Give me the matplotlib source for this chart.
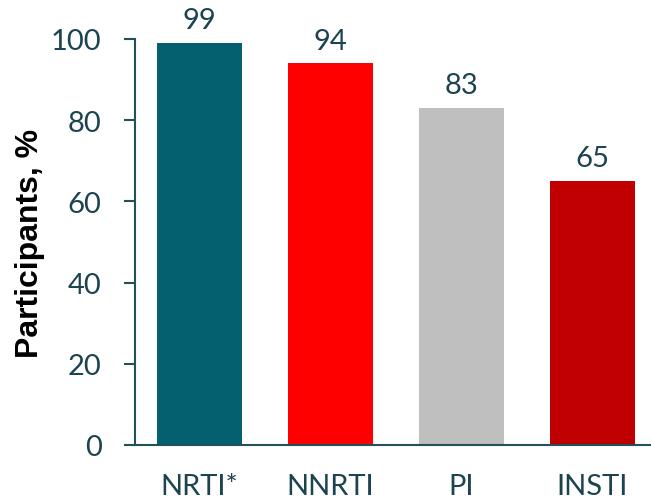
import matplotlib
matplotlib.use("Agg")
import matplotlib.pyplot as plt

categories = ["NRTI*", "NNRTI", "PI", "INSTI"]
values = [99, 94, 83, 65]
colors = ["#04606E", "#FF0000", "#BFBFBF", "#C00000"]
yticks = [0, 20, 40, 60, 80, 100]

text_color = "#1C4450"
axis_color = "#24505A"

fig = plt.figure(figsize=(6.51, 5.02), dpi=100)
ax = fig.add_axes([135 / 651, 56 / 502, 524 / 651, 406 / 502])

x = range(len(categories))
bars = ax.bar(x, values, width=0.65, color=colors, zorder=2)

for xi, v in zip(x, values):
    ax.annotate(str(v), (xi, v), xytext=(0, 7), textcoords="offset points",
                ha="center", va="bottom", fontsize=21, color=text_color,
                family=["Lato", "DejaVu Sans"])

ax.set_xlim(-0.49, 3.51)
ax.set_ylim(0, 100)
ax.set_yticks(yticks)
ax.set_xticks(list(x))
ax.set_xticklabels(categories)

for lbl in ax.get_xticklabels() + ax.get_yticklabels():
    lbl.set_family(["Lato", "DejaVu Sans"])
    lbl.set_fontsize(21)
    lbl.set_color(text_color)

ax.tick_params(axis="y", direction="out", length=8, width=1.5, color=axis_color, pad=16)
ax.tick_params(axis="x", length=0, pad=20)

for side in ["top", "right"]:
    ax.spines[side].set_visible(False)
for side in ["left", "bottom"]:
    ax.spines[side].set_color(axis_color)
    ax.spines[side].set_linewidth(1.5)

ax.set_ylabel("Participants, %", fontsize=23, fontweight="bold",
              family=["Liberation Sans", "DejaVu Sans"], color="black", labelpad=4)

fig.savefig("out.png", dpi=100)
